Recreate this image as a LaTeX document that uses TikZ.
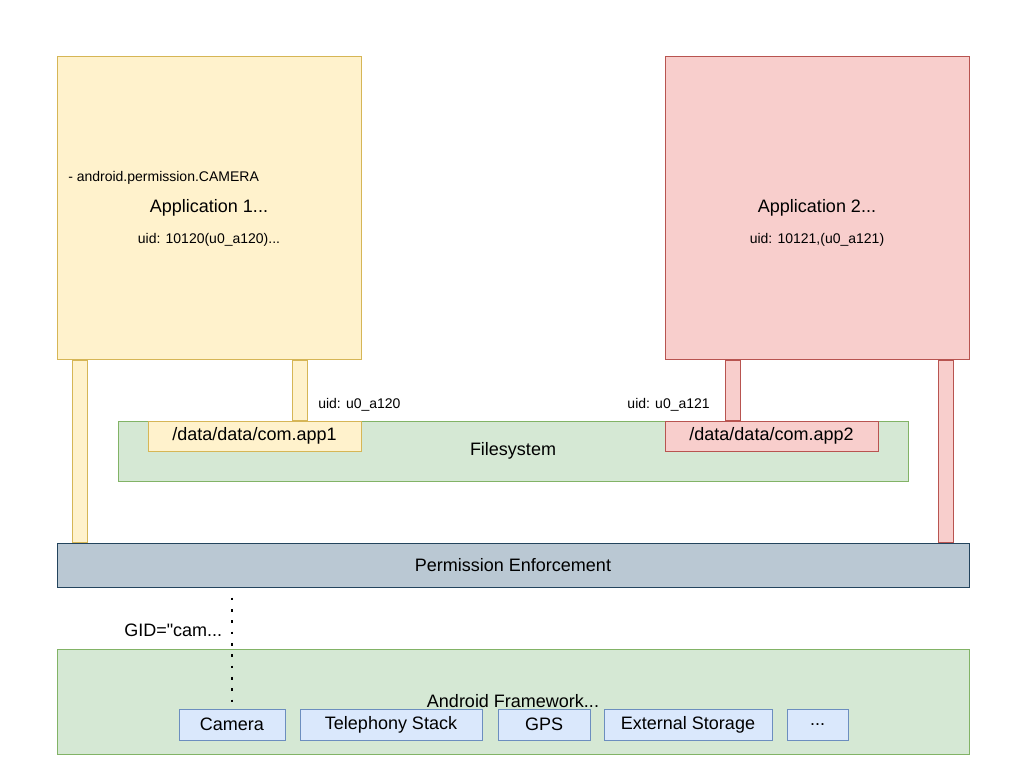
\documentclass[tikz,border=0pt]{standalone}
\usepackage{fontspec}
\setmainfont{Liberation Sans}
\usetikzlibrary{calc}
\definecolor{appyfill}{HTML}{FFF2CC}
\definecolor{appydraw}{HTML}{D6B656}
\definecolor{apprfill}{HTML}{F8CECC}
\definecolor{apprdraw}{HTML}{B85450}
\definecolor{fsfill}{HTML}{D5E8D4}
\definecolor{fsdraw}{HTML}{82B366}
\definecolor{permfill}{HTML}{BAC8D3}
\definecolor{permdraw}{HTML}{23445D}
\definecolor{svcfill}{HTML}{DAE8FC}
\definecolor{svcdraw}{HTML}{6C8EBF}
\begin{document}
\begin{tikzpicture}[x=0.75pt,y=-0.75pt,
  box/.style={draw,line width=0.75pt,inner sep=0pt,font=\fontsize{13.5}{16}\selectfont},
  appone/.style={box,fill=appyfill,draw=appydraw},
  apptwo/.style={box,fill=apprfill,draw=apprdraw},
  fsbox/.style={box,fill=fsfill,draw=fsdraw},
  permbox/.style={box,fill=permfill,draw=permdraw},
  svcbox/.style={box,fill=svcfill,draw=svcdraw,minimum height=23.25pt},
  bigtxt/.style={font=\fontsize{13.5}{16}\selectfont},
  smalltxt/.style={font=\fontsize{10.5}{12}\selectfont},
  ybar/.style={draw=appydraw,fill=appyfill,line width=0.75pt},
  rbar/.style={draw=apprdraw,fill=apprfill,line width=0.75pt},
  gidline/.style={line width=2pt,dash pattern=on 2pt off 6.5pt}]
\useasboundingbox (0,0) rectangle (1024,780);

% applications
\node[appone,minimum width=228pt,minimum height=227.25pt] (app1) at (209,208.5) {};
\node[apptwo,minimum width=228pt,minimum height=227.25pt] (app2) at (817,208.5) {};
\node[smalltxt,anchor=west,inner sep=0pt] (perm1) at (68,178) {- android.permission.CAMERA};
\node[bigtxt] (name1) at (209,208) {Application 1...};
\node[smalltxt] (uid1) at (209,240) {uid: 10120(u0\_a120)...};
\node[bigtxt] (name2) at (817,208) {Application 2...};
\node[smalltxt] (uid2) at (817,240) {uid: 10121,(u0\_a121)};

% filesystem
\node[fsbox,minimum width=592.5pt,minimum height=45pt] (fs) at (513,451) {Filesystem};
\node[appone,minimum width=159.75pt,minimum height=22.5pt] (dir1) at (254.5,436) {/data/data/com.app1};
\node[apptwo,minimum width=159.75pt,minimum height=22.5pt] (dir2) at (771.5,436) {/data/data/com.app2};
\node[smalltxt,anchor=west,inner sep=0pt] (fsuid1) at (318,405) {uid: u0\_a120};
\node[smalltxt,anchor=east,inner sep=0pt] (fsuid2) at (710,405) {uid: u0\_a121};

% enforcement
\node[permbox,minimum width=684pt,minimum height=33pt] (perm) at (513,565) {Permission Enforcement};

% framework
\node[fsbox,minimum width=684pt,minimum height=78.75pt] (fw) at (513,701.5) {};
\node[bigtxt] (fwname) at (513,701) {Android Framework...};
\node[svcbox,minimum width=79.5pt] (camera) at (232,724.5) {Camera};
\node[svcbox,minimum width=136.5pt] (tel) at (391,724.5) {Telephony Stack};
\node[svcbox,minimum width=69pt] (gps) at (544,724.5) {GPS};
\node[svcbox,minimum width=126pt] (ext) at (688,724.5) {External Storage};
\node[svcbox,minimum width=45.75pt] (more) at (817.5,724.5) {...};

% uid bars
\draw[ybar] ($(app1.south west)+(16,0)$) rectangle ($(app1.south west |- perm.north)+(31,0)$);
\draw[ybar] ($(app1.south west)+(236,0)$) rectangle ($(app1.south west |- dir1.north)+(251,0)$);
\draw[rbar] ($(app2.south west)+(61,0)$) rectangle ($(app2.south west |- dir2.north)+(76,0)$);
\draw[rbar] ($(app2.south west)+(274,0)$) rectangle ($(app2.south west |- perm.north)+(289,0)$);

% gid link
\draw[gidline] ($(perm.south -| camera.north)+(0,10)$) -- ($(camera.north)+(0,-0.5)$)
  node[bigtxt,pos=0.3,left=3pt] (gid) {GID=\textquotedbl cam...};
\end{tikzpicture}
\end{document}
